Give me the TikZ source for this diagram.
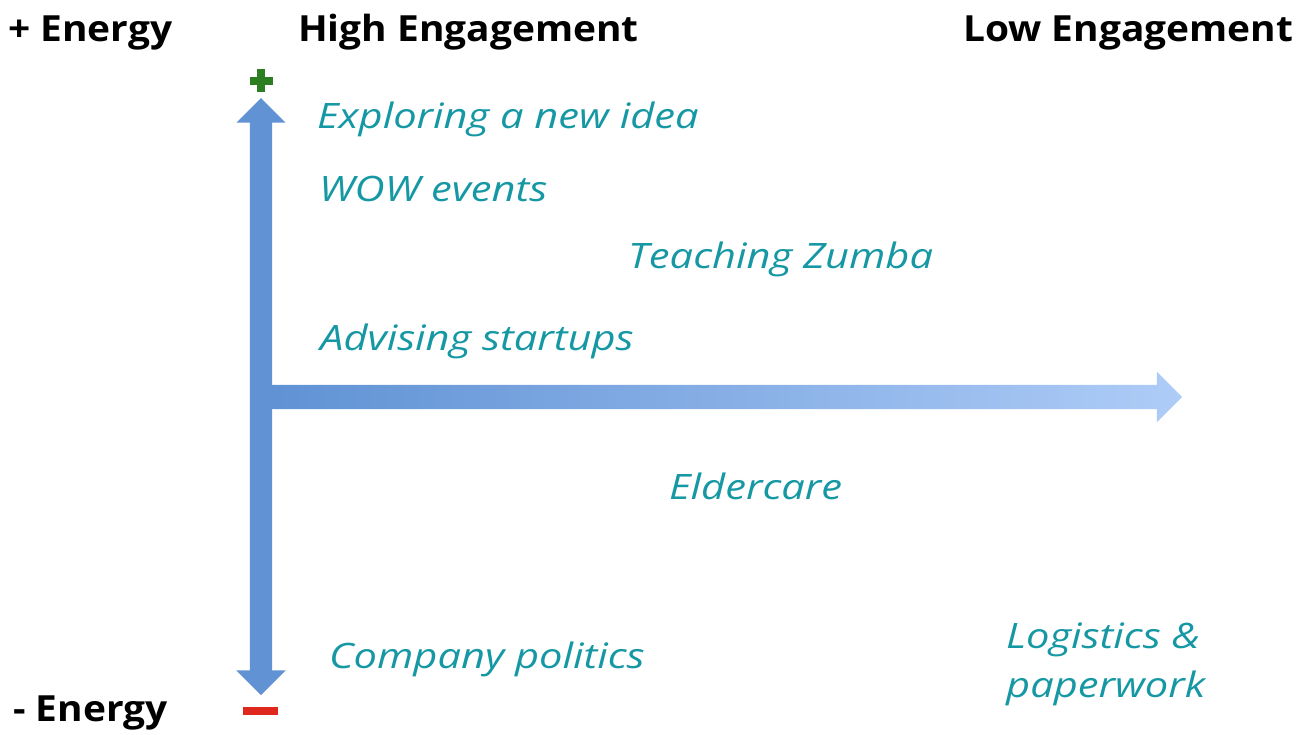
\documentclass[tikz,border=0pt]{standalone}
\usepackage{fontspec}
\setmainfont{Open Sans}
\newfontfamily\headfont[FakeStretch=1.08]{Open Sans}
\newfontfamily\itemfont[FakeStretch=1.19]{Open Sans}
\usetikzlibrary{shapes.arrows}

\definecolor{axisblue}{RGB}{96,146,212}
\definecolor{axislight}{RGB}{174,204,247}
\definecolor{itemteal}{RGB}{22,152,164}
\definecolor{plusgreen}{RGB}{45,125,35}
\definecolor{minusred}{RGB}{222,40,30}

\tikzset{
  heading/.style={font=\headfont\fontsize{36}{42}\selectfont\bfseries, anchor=base west, inner sep=0pt},
  activity/.style={font=\itemfont\fontsize{35}{49}\selectfont\itshape, text=itemteal, anchor=base west, inner sep=0pt, align=left},
}

\begin{document}
\begin{tikzpicture}[x=1pt,y=-1pt]
			\useasboundingbox (0,0) rectangle (1301,734);

			% Axes
			\node[single arrow, draw=none, left color=axisblue, right color=axislight,
				minimum height=914, single arrow head extend=13, inner xsep=0pt, inner ysep=12pt]
				(engagement) at (719,397) {};
			\node[double arrow, draw=none, fill=axisblue, rotate=90,
				minimum height=597, double arrow head extend=13.5, inner xsep=0pt, inner ysep=11pt]
				(energy) at (261,396.5) {};

			% Plus and minus marks
			\fill[plusgreen] (257,69) rectangle (265,92);
			\fill[plusgreen] (249.5,76.5) rectangle (272.5,84.5);
			\fill[minusred] (243,707) rectangle (278,715);

			% Headings
			\node[heading] (plusE) at (8,41) {+ Energy};
			\node[heading] (high) at (298,41) {High Engagement};
			\node[heading] (low) at (963,41) {Low Engagement};
			\node[heading] (minusE) at (13,721) {- Energy};

			% Activities
			\node[activity] (explore) at (317,128) {Exploring a new idea};
			\node[activity] (wow) at (319,201) {WOW events};
			\node[activity] (zumba) at (628,268) {Teaching Zumba};
			\node[activity] (advise) at (320,350) {Advising startups};
			\node[activity] (elder) at (669,499) {Eldercare};
			\node[activity] (politics) at (329,668) {Company politics};
			\node[activity] (logistics) at (1006,697) {Logistics \&\\paperwork};
\end{tikzpicture}
\end{document}
